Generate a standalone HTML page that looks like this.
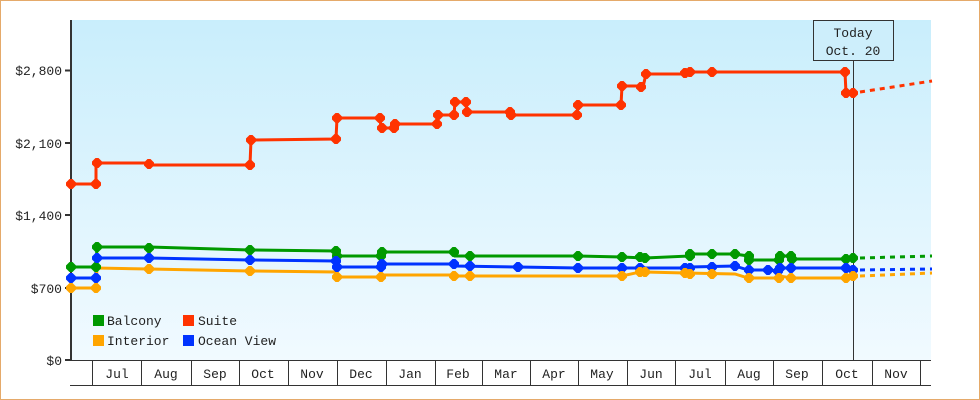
<!DOCTYPE html>
<html><head><meta charset="utf-8"><style>
body{margin:0;background:#fff}
svg{display:block}
text{font-family:"Liberation Mono","DejaVu Sans Mono",monospace;font-size:13px;fill:#222}
</style></head><body>
<svg width="980" height="400" viewBox="0 0 980 400">
<defs>
<linearGradient id="bg" x1="0" y1="0" x2="0" y2="1">
<stop offset="0" stop-color="#c9eefc"/><stop offset="1" stop-color="#f1faff"/>
</linearGradient>
<g id="d"><path d="M-1.5,-5L1.5,-5L5,-1.5L5,1.5L1.5,5L-1.5,5L-5,1.5L-5,-1.5Z"/></g>
</defs>
<rect x="0.5" y="0.5" width="979" height="399" fill="#fff" stroke="#e5aa6a"/>
<rect x="71" y="20" width="860" height="340" fill="url(#bg)"/>
<!-- y axis -->
<line x1="71" y1="20" x2="71" y2="361" stroke="#333" stroke-width="2"/>
<g stroke="#333" stroke-width="2">
<line x1="65" y1="360" x2="71" y2="360"/><line x1="65" y1="288" x2="71" y2="288"/>
<line x1="65" y1="215" x2="71" y2="215"/><line x1="65" y1="143" x2="71" y2="143"/>
<line x1="65" y1="70.5" x2="71" y2="70.5"/>
</g>
<g text-anchor="end">
<text x="62" y="365">$0</text><text x="62" y="293">$700</text>
<text x="62" y="220">$1,400</text><text x="62" y="148">$2,100</text>
<text x="62" y="75">$2,800</text>
</g>
<!-- x axis -->
<line x1="70" y1="360.5" x2="931" y2="360.5" stroke="#333"/>
<line x1="70" y1="385.5" x2="931" y2="385.5" stroke="#333"/>
<g stroke="#333">
<line x1="92.5" y1="360" x2="92.5" y2="385"/><line x1="141.5" y1="360" x2="141.5" y2="385"/>
<line x1="191.5" y1="360" x2="191.5" y2="385"/><line x1="239.5" y1="360" x2="239.5" y2="385"/>
<line x1="288.5" y1="360" x2="288.5" y2="385"/><line x1="337.5" y1="360" x2="337.5" y2="385"/>
<line x1="386.5" y1="360" x2="386.5" y2="385"/><line x1="435.5" y1="360" x2="435.5" y2="385"/>
<line x1="482.5" y1="360" x2="482.5" y2="385"/><line x1="530.5" y1="360" x2="530.5" y2="385"/>
<line x1="578.5" y1="360" x2="578.5" y2="385"/><line x1="627.5" y1="360" x2="627.5" y2="385"/>
<line x1="675.5" y1="360" x2="675.5" y2="385"/><line x1="725.5" y1="360" x2="725.5" y2="385"/>
<line x1="773.5" y1="360" x2="773.5" y2="385"/><line x1="822.5" y1="360" x2="822.5" y2="385"/>
<line x1="872.5" y1="360" x2="872.5" y2="385"/><line x1="920.5" y1="360" x2="920.5" y2="385"/>
</g>
<g text-anchor="middle">
<text x="117" y="378">Jul</text><text x="166" y="378">Aug</text><text x="215" y="378">Sep</text>
<text x="263" y="378">Oct</text><text x="312" y="378">Nov</text><text x="361" y="378">Dec</text>
<text x="410" y="378">Jan</text><text x="458" y="378">Feb</text><text x="506" y="378">Mar</text>
<text x="554" y="378">Apr</text><text x="602" y="378">May</text><text x="651" y="378">Jun</text>
<text x="700" y="378">Jul</text><text x="749" y="378">Aug</text><text x="797" y="378">Sep</text>
<text x="847" y="378">Oct</text><text x="896" y="378">Nov</text>
</g>
<!-- today -->
<line x1="853.5" y1="60" x2="853.5" y2="360" stroke="#333"/>
<rect x="813.5" y="20.5" width="80" height="40" fill="#cdeefb" stroke="#333"/>
<text x="853" y="37" text-anchor="middle">Today</text>
<text x="853" y="55" text-anchor="middle">Oct. 20</text>
<!-- series -->
<g fill="none" stroke-width="3">
<polyline stroke="#ff3300" points="71,184 96,184 96,163 148,163 149,165 250,165 251,140 336,139 337,118 380,118 381,128 394,128 395,124 437,124 438,115 454,115 455,102 466,102 467,112 510,112 511,115 577,115 578,105 621,105 622,86 640,86 643,87 646,74 685,74 690,72 712,72 845,72 846,93 853,93"/>
<polyline stroke="#009900" points="71,267 96,267 97,247 149,247 250,250 336,251 337,256 381,256 382,252 454,252 455,256 578,256 622,257 645,258 690,256 690,254 735,254 748,256 749,260 779,260 780,256 791,256 792,259 846,259 853,258"/>
<polyline stroke="#0033ff" points="71,278 96,278 96,258 149,258 250,260 336,261 337,267 381,267 382,264 454,264 455,266 518,267 578,268 685,268 690,267 735,266 748,270 768,270 778,271 780,268 846,268 853,270"/>
<polyline stroke="#ffa500" points="71,288 96,288 97,268 149,269 250,271 336,272 337,277 381,277 382,275 454,275 455,276 578,276 622,276 640,272 645,272 685,273 735,274 748,278 779,278 780,276 791,278 846,278 853,276"/>
<g stroke-dasharray="5,5">
<polyline stroke="#ff3300" points="860,92 932,81"/>
<polyline stroke="#009900" points="860,258 932,256"/>
<polyline stroke="#0033ff" points="860,270 932,269"/>
<polyline stroke="#ffa500" points="860,276 932,273"/>
</g>
</g>
<g fill="#ff3300">
<use href="#d" x="71" y="184"/><use href="#d" x="96" y="184"/><use href="#d" x="97" y="163"/><use href="#d" x="149" y="164"/><use href="#d" x="250" y="165"/><use href="#d" x="251" y="140"/><use href="#d" x="336" y="139"/><use href="#d" x="337" y="118"/><use href="#d" x="380" y="118"/><use href="#d" x="382" y="128"/><use href="#d" x="394" y="128"/><use href="#d" x="395" y="124"/><use href="#d" x="437" y="124"/><use href="#d" x="438" y="115"/><use href="#d" x="454" y="115"/><use href="#d" x="455" y="102"/><use href="#d" x="466" y="102"/><use href="#d" x="467" y="112"/><use href="#d" x="510" y="112"/><use href="#d" x="511" y="115"/><use href="#d" x="577" y="115"/><use href="#d" x="578" y="105"/><use href="#d" x="621" y="105"/><use href="#d" x="622" y="86"/><use href="#d" x="641" y="87"/><use href="#d" x="646" y="74"/><use href="#d" x="685" y="73"/><use href="#d" x="690" y="72"/><use href="#d" x="712" y="72"/><use href="#d" x="845" y="72"/><use href="#d" x="846" y="93"/><use href="#d" x="853" y="93"/>
</g>
<g fill="#009900">
<use href="#d" x="71" y="267"/><use href="#d" x="96" y="267"/><use href="#d" x="97" y="247"/><use href="#d" x="149" y="248"/><use href="#d" x="250" y="250"/><use href="#d" x="336" y="251"/><use href="#d" x="337" y="256"/><use href="#d" x="381" y="256"/><use href="#d" x="382" y="252"/><use href="#d" x="454" y="252"/><use href="#d" x="470" y="256"/><use href="#d" x="578" y="256"/><use href="#d" x="622" y="257"/><use href="#d" x="640" y="257"/><use href="#d" x="645" y="258"/><use href="#d" x="690" y="256"/><use href="#d" x="690" y="254"/><use href="#d" x="712" y="254"/><use href="#d" x="735" y="254"/><use href="#d" x="749" y="256"/><use href="#d" x="749" y="260"/><use href="#d" x="779" y="260"/><use href="#d" x="780" y="256"/><use href="#d" x="791" y="256"/><use href="#d" x="792" y="259"/><use href="#d" x="846" y="259"/><use href="#d" x="853" y="258"/>
</g>
<g fill="#0033ff">
<use href="#d" x="71" y="278"/><use href="#d" x="96" y="278"/><use href="#d" x="97" y="258"/><use href="#d" x="149" y="258"/><use href="#d" x="250" y="260"/><use href="#d" x="336" y="261"/><use href="#d" x="337" y="267"/><use href="#d" x="381" y="267"/><use href="#d" x="382" y="264"/><use href="#d" x="454" y="264"/><use href="#d" x="470" y="266"/><use href="#d" x="518" y="267"/><use href="#d" x="578" y="268"/><use href="#d" x="622" y="268"/><use href="#d" x="640" y="268"/><use href="#d" x="685" y="268"/><use href="#d" x="690" y="268"/><use href="#d" x="712" y="267"/><use href="#d" x="735" y="266"/><use href="#d" x="749" y="270"/><use href="#d" x="768" y="270"/><use href="#d" x="778" y="271"/><use href="#d" x="780" y="268"/><use href="#d" x="791" y="268"/><use href="#d" x="846" y="268"/><use href="#d" x="853" y="270"/>
</g>
<g fill="#ffa500">
<use href="#d" x="71" y="288"/><use href="#d" x="96" y="288"/><use href="#d" x="149" y="269"/><use href="#d" x="250" y="271"/><use href="#d" x="337" y="277"/><use href="#d" x="381" y="277"/><use href="#d" x="454" y="276"/><use href="#d" x="470" y="276"/><use href="#d" x="622" y="276"/><use href="#d" x="640" y="272"/><use href="#d" x="645" y="272"/><use href="#d" x="685" y="273"/><use href="#d" x="690" y="274"/><use href="#d" x="712" y="274"/><use href="#d" x="749" y="278"/><use href="#d" x="779" y="278"/><use href="#d" x="791" y="278"/><use href="#d" x="846" y="278"/><use href="#d" x="853" y="276"/>
</g>
<!-- legend -->
<rect x="93" y="315" width="11" height="11" fill="#009900"/><text x="107" y="325">Balcony</text>
<rect x="183" y="315" width="11" height="11" fill="#ff3300"/><text x="198" y="325">Suite</text>
<rect x="93" y="335" width="11" height="11" fill="#ffa500"/><text x="107" y="345">Interior</text>
<rect x="183" y="335" width="11" height="11" fill="#0033ff"/><text x="198" y="345">Ocean View</text>
</svg>
</body></html>
